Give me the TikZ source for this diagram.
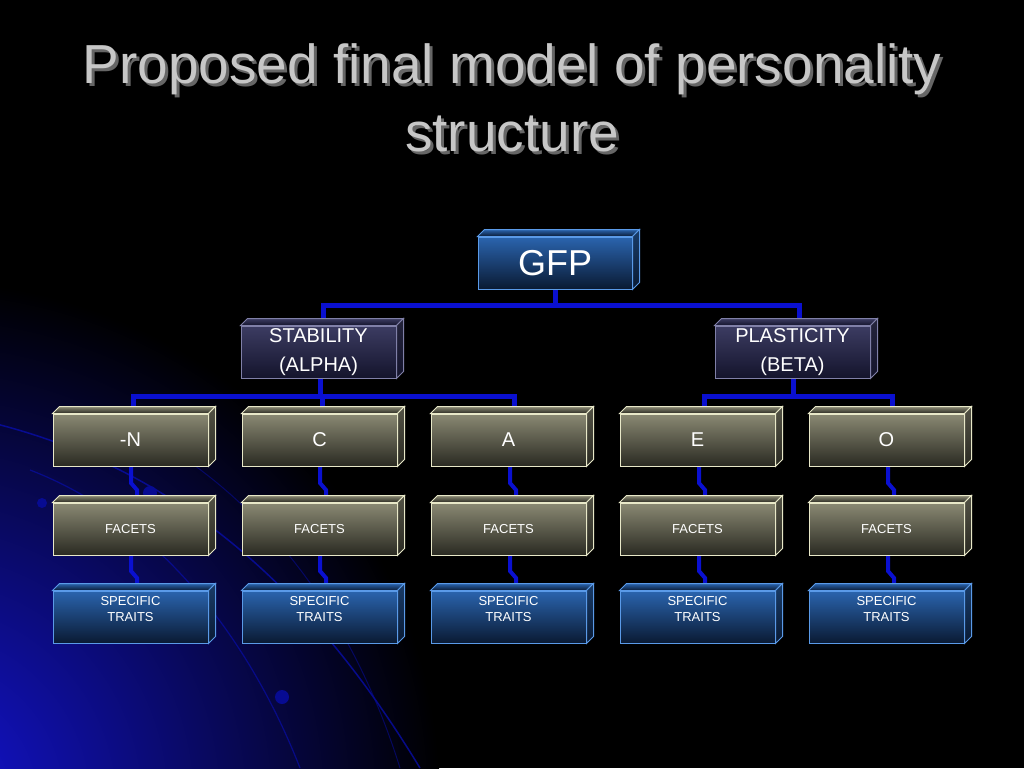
\documentclass[tikz,border=0pt]{standalone}
\usepackage{fontspec}
\setmainfont{Liberation Sans}
\begin{document}
\begin{tikzpicture}[x=1pt,y=-1pt,
  olive/.style={top color=olivetop,bottom color=olivebot,draw=olivedge,line width=1pt},
  blue/.style={top color=bluetop,bottom color=bluebot,draw=bluedge,line width=1pt},
  purp/.style={top color=purptop,bottom color=purpbot,draw=purpedge,line width=1pt},
  conn/.style={draw=connblue,line width=5pt},
]
\definecolor{olivetop}{HTML}{8A8973}\definecolor{olivebot}{HTML}{2A2A22}\definecolor{olivedge}{HTML}{E8E8C8}
\definecolor{bluetop}{HTML}{2A64AE}\definecolor{bluebot}{HTML}{0A1A33}\definecolor{bluedge}{HTML}{5A9AE8}
\definecolor{purptop}{HTML}{3C3C62}\definecolor{purpbot}{HTML}{14142C}\definecolor{purpedge}{HTML}{8080A8}
\definecolor{connblue}{HTML}{0A10D0}
\definecolor{bgblue}{HTML}{1414D8}
\fill[black] (0,0) rectangle (1024,768);
\useasboundingbox (0,0) rectangle (1024,768);
\begin{scope}
\clip (0,0) rectangle (1024,768);
\shade[inner color=bgblue,outer color=black] (-80,800) circle (520);
\draw[connblue!80!black,line width=1.5pt,opacity=0.8] (-20,420) .. controls (200,470) and (330,620) .. (420,768);
\draw[connblue!80!black,line width=1.2pt,opacity=0.7] (30,470) .. controls (160,520) and (250,640) .. (300,768);
\draw[connblue!70!black,line width=1pt,opacity=0.6] (120,420) .. controls (280,500) and (360,640) .. (400,768);
\fill[connblue!70!black] (150,493) circle (7);
\fill[connblue!70!black] (42,503) circle (5);
\fill[connblue!70!black] (282,697) circle (7);
\end{scope}
\node[text=black!60,font=\fontsize{55}{68}\selectfont,align=center] at (515,101) {Proposed final model of personality\\structure};
\node[text=black!22!white,font=\fontsize{55}{68}\selectfont,align=center] at (512,98) {Proposed final model of personality\\structure};
\newcommand\tdbox[6]{%
  \node[#6,minimum width=#4,minimum height=#5,inner sep=0pt] (#1) at (#2,#3) {};
  \filldraw[#6] (#1.north west) -- ([shift={(7,-7)}]#1.north west) -- ([shift={(7,-7)}]#1.north east) -- (#1.north east) -- cycle;
  \filldraw[#6,top color=#6top!60!black,bottom color=#6bot] (#1.north east) -- ([shift={(7,-7)}]#1.north east) -- ([shift={(7,-7)}]#1.south east) -- (#1.south east) -- cycle;}
% connectors
\draw[conn] (555,289) -- (555,305);
\draw[conn] (323,326) -- (323,305) -- (799,305) -- (799,326);
\draw[conn] (320,378) -- (320,396);
\draw[conn] (133,414) -- (133,396) -- (514,396) -- (514,414);
\draw[conn] (322,396) -- (322,414);
\draw[conn] (793,378) -- (793,396);
\draw[conn] (704,414) -- (704,396) -- (892,396) -- (892,414);
\foreach \x in {131,320,510,699,888}{
  \draw[conn,line width=4pt] (\x,466) -- (\x,483) -- (\x+6,490) -- (\x+6,503);
  \draw[conn,line width=4pt] (\x,555) -- (\x,571) -- (\x+6,578) -- (\x+6,591);
}
% boxes
\tdbox{gfp}{555}{263}{154}{52}{blue}
\node[text=white,font=\fontsize{36}{40}\selectfont] at (gfp) {GFP};
\tdbox{stab}{318.5}{352}{155}{52}{purp}
\node[text=white,align=center,font=\fontsize{20}{29}\selectfont] at (stab) {STABILITY\\(ALPHA)};
\tdbox{plas}{792.5}{352}{155}{52}{purp}
\node[text=white,align=center,font=\fontsize{20}{29}\selectfont] at (plas) {PLASTICITY\\(BETA)};
\foreach \n/\x/\t in {n/130.5/-N,c/319.5/C,a/508.5/A,e/697.5/E,o/886.5/O}{
  \tdbox{t\n}{\x}{440}{155}{52}{olive}
  \node[text=white,font=\fontsize{20}{24}\selectfont] at (t\n) {\t};
  \tdbox{f\n}{\x}{529}{155}{52}{olive}
  \node[text=white,font=\fontsize{13}{16}\selectfont] at (f\n) {FACETS};
  \tdbox{s\n}{\x}{617}{155}{52}{blue}
  \node[text=white,align=center,font=\fontsize{13}{16}\selectfont] at ([yshift=8]s\n.center) {SPECIFIC\\TRAITS};
}
\end{tikzpicture}
\end{document}
